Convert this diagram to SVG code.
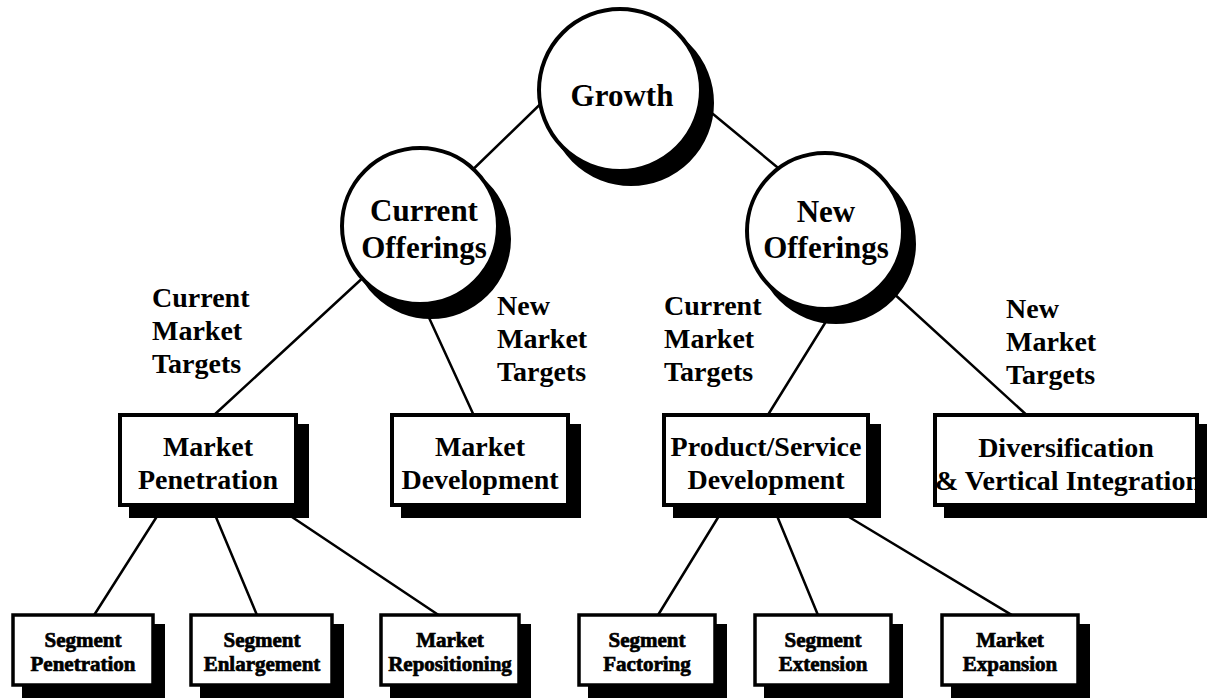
<svg xmlns="http://www.w3.org/2000/svg" width="1207" height="698" viewBox="0 0 1207 698">
<style>
  .bg { fill: #ffffff; }
  .conn { stroke: #000; stroke-width: 2.5; fill: none; stroke-linecap: round; }
  .shadow { fill: #000; stroke: #000; stroke-width: 4; }
  .circ { fill: #fff; stroke: #000; stroke-width: 4; }
  .box { fill: #fff; stroke: #000; stroke-width: 4; }
  .sbox { fill: #fff; stroke: #000; stroke-width: 3.5; }
  .bshadow { fill: #000; }
  text { font-family: "Liberation Serif", "Times New Roman", serif; font-weight: bold; fill: #000; }
  .big { font-size: 31px; text-anchor: middle; }
  .mid { font-size: 28px; text-anchor: middle; }
  .lbl { font-size: 28px; text-anchor: start; }
  .small { font-size: 21px; text-anchor: middle; stroke: #000; stroke-width: 0.7; }
</style>
<rect class="bg" x="0" y="0" width="1207" height="698"/>

<g id="connectors">
  <line class="conn" x1="560" y1="85" x2="460" y2="182"/>
  <line class="conn" x1="690" y1="95" x2="800" y2="186"/>
  <line class="conn" x1="380" y1="262" x2="213" y2="416"/>
  <line class="conn" x1="425" y1="309" x2="475" y2="418"/>
  <line class="conn" x1="830" y1="315" x2="766" y2="418"/>
  <line class="conn" x1="880" y1="281" x2="1031" y2="419"/>
  <line class="conn" x1="161" y1="510" x2="91" y2="620"/>
  <line class="conn" x1="213" y1="510" x2="259" y2="620"/>
  <line class="conn" x1="289" y1="515" x2="446" y2="620"/>
  <line class="conn" x1="722" y1="511" x2="655" y2="620"/>
  <line class="conn" x1="775" y1="511" x2="820" y2="620"/>
  <line class="conn" x1="849" y1="517" x2="1020" y2="620"/>
</g>

<g id="labels">
  <text class="lbl"><tspan x="152" y="307">Current</tspan><tspan x="152" y="340">Market</tspan><tspan x="152" y="373">Targets</tspan></text>
  <text class="lbl"><tspan x="497" y="315">New</tspan><tspan x="497" y="348">Market</tspan><tspan x="497" y="381">Targets</tspan></text>
  <text class="lbl"><tspan x="664" y="315">Current</tspan><tspan x="664" y="348">Market</tspan><tspan x="664" y="381">Targets</tspan></text>
  <text class="lbl"><tspan x="1006" y="318">New</tspan><tspan x="1006" y="351">Market</tspan><tspan x="1006" y="384">Targets</tspan></text>
</g>

<g id="growth">
  <circle class="shadow" cx="631" cy="103" r="81"/>
  <circle class="circ" cx="620" cy="90" r="81"/>
  <text class="big" x="622" y="106">Growth</text>
</g>

<g id="current-offerings">
  <circle class="shadow" cx="431" cy="239" r="78"/>
  <circle class="circ" cx="420" cy="226" r="78"/>
  <text class="big"><tspan x="424" y="221">Current</tspan><tspan x="424" y="258">Offerings</tspan></text>
</g>

<g id="new-offerings">
  <circle class="shadow" cx="836" cy="244" r="78"/>
  <circle class="circ" cx="825" cy="231" r="78"/>
  <text class="big"><tspan x="826" y="222">New</tspan><tspan x="826" y="258">Offerings</tspan></text>
</g>

<g id="market-penetration">
  <rect class="bshadow" x="129" y="424" width="180" height="94"/>
  <rect class="box" x="120" y="415" width="176" height="90"/>
  <text class="mid"><tspan x="208" y="456">Market</tspan><tspan x="208" y="489">Penetration</tspan></text>
</g>

<g id="market-development">
  <rect class="bshadow" x="401" y="424" width="180" height="94"/>
  <rect class="box" x="392" y="415" width="176" height="90"/>
  <text class="mid"><tspan x="480" y="456">Market</tspan><tspan x="480" y="489">Development</tspan></text>
</g>

<g id="product-service-development">
  <rect class="bshadow" x="673" y="424" width="208" height="94"/>
  <rect class="box" x="664" y="415" width="204" height="90"/>
  <text class="mid"><tspan x="766" y="456">Product/Service</tspan><tspan x="766" y="489">Development</tspan></text>
</g>

<g id="diversification">
  <rect class="bshadow" x="944" y="424" width="266" height="94"/>
  <rect class="box" x="935" y="415" width="262" height="90"/>
  <text class="mid"><tspan x="1066" y="457">Diversification</tspan><tspan x="1068" y="490">&amp; Vertical Integration</tspan></text>
</g>

<g id="segment-penetration">
  <rect class="bshadow" x="22" y="624" width="143" height="74"/>
  <rect class="sbox" x="13" y="615" width="140" height="70"/>
  <text class="small"><tspan x="83" y="647">Segment</tspan><tspan x="83" y="671">Penetration</tspan></text>
</g>

<g id="segment-enlargement">
  <rect class="bshadow" x="200" y="624" width="144" height="74"/>
  <rect class="sbox" x="191" y="615" width="141" height="70"/>
  <text class="small"><tspan x="262" y="647">Segment</tspan><tspan x="262" y="671">Enlargement</tspan></text>
</g>

<g id="market-repositioning">
  <rect class="bshadow" x="390" y="624" width="141" height="74"/>
  <rect class="sbox" x="381" y="615" width="138" height="70"/>
  <text class="small"><tspan x="450" y="647">Market</tspan><tspan x="450" y="671">Repositioning</tspan></text>
</g>

<g id="segment-factoring">
  <rect class="bshadow" x="588" y="624" width="139" height="74"/>
  <rect class="sbox" x="579" y="615" width="136" height="70"/>
  <text class="small"><tspan x="647" y="647">Segment</tspan><tspan x="647" y="671">Factoring</tspan></text>
</g>

<g id="segment-extension">
  <rect class="bshadow" x="764" y="624" width="139" height="74"/>
  <rect class="sbox" x="755" y="615" width="136" height="70"/>
  <text class="small"><tspan x="823" y="647">Segment</tspan><tspan x="823" y="671">Extension</tspan></text>
</g>

<g id="market-expansion">
  <rect class="bshadow" x="951" y="624" width="139" height="74"/>
  <rect class="sbox" x="942" y="615" width="136" height="70"/>
  <text class="small"><tspan x="1010" y="647">Market</tspan><tspan x="1010" y="671">Expansion</tspan></text>
</g>
</svg>
